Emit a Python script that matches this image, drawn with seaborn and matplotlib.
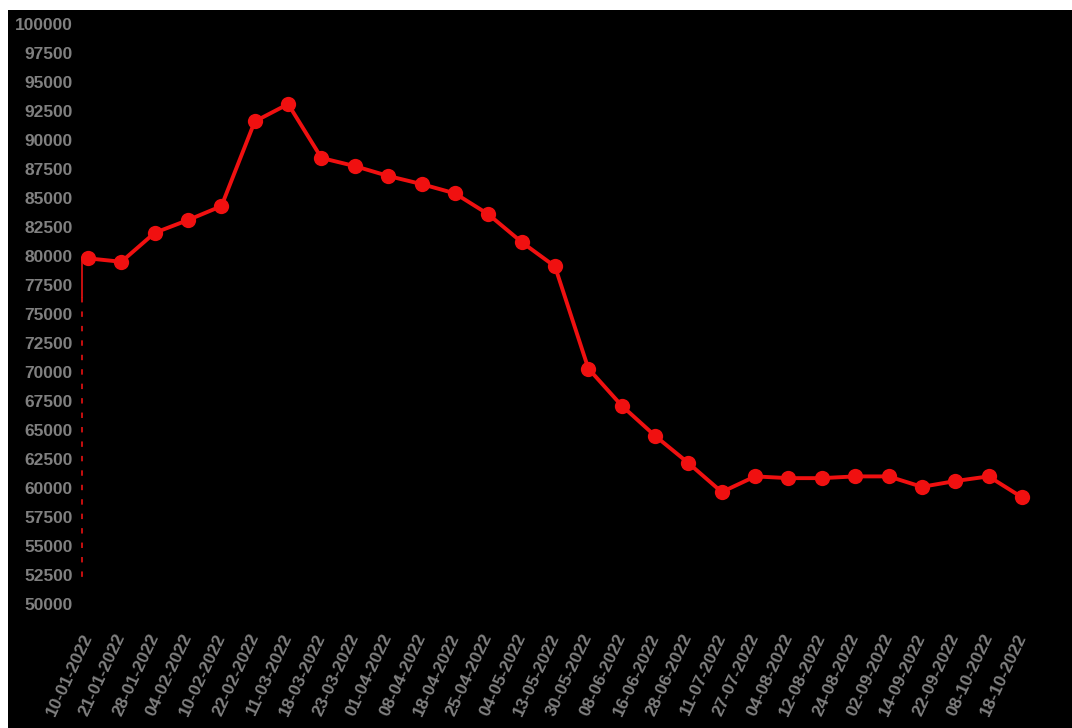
import numpy as np
import pandas as pd
import matplotlib
matplotlib.use("Agg")
import matplotlib.pyplot as plt
import seaborn as sns
from matplotlib.patches import Rectangle

fechas = ['10-01-2022', '21-01-2022', '28-01-2022', '04-02-2022', '10-02-2022',
          '22-02-2022', '11-03-2022', '18-03-2022', '23-03-2022', '01-04-2022',
          '08-04-2022', '18-04-2022', '25-04-2022', '04-05-2022', '13-05-2022',
          '30-05-2022', '08-06-2022', '16-06-2022', '28-06-2022', '11-07-2022',
          '27-07-2022', '04-08-2022', '12-08-2022', '24-08-2022', '02-09-2022',
          '14-09-2022', '22-09-2022', '08-10-2022', '18-10-2022']
precios = [79800, 79500, 82000, 83100, 84300, 91600, 93100, 88450, 87750, 86900,
           86200, 85400, 83600, 81200, 79100, 70300, 67100, 64500, 62150, 59650,
           61000, 60850, 60850, 61000, 61000, 60100, 60600, 61000, 59200]
yticks = list(range(50000, 100001, 2500))
piso = 51800  # hasta donde baja la linea punteada de la izquierda

df = pd.DataFrame({"pos": np.arange(len(fechas)), "fecha": fechas, "precio": precios})

sns.set_style("dark")
plt.rcParams['font.family'] = ['Liberation Sans', 'DejaVu Sans']

fig = plt.figure(figsize=(10.72, 7.28), dpi=100, facecolor="white")
# fondo negro con el borde blanco arriba y a la izquierda
fig.patches.append(Rectangle((8 / 1072, 0), 1, 718 / 728, transform=fig.transFigure,
                             facecolor="black", edgecolor="none", zorder=-10))
ax = fig.add_axes([81 / 1072, 124 / 728, 1 - 81 / 1072, 580 / 728])
ax.set_facecolor("black")

rojo = "#f01010"
sns.lineplot(data=df, x="pos", y="precio", ax=ax, color=rojo, linewidth=2.8,
             marker="o", markersize=11, markeredgewidth=0, zorder=3)

ax.set_xlim(-0.21, 29.5)
ax.set_ylim(50000, 100000)

# linea vertical desde el primer punto hacia abajo
x0 = ax.get_xlim()[0] + 0.02
ax.plot([x0, x0], [precios[0], 76500], color="#d81010", linewidth=1.3, zorder=2)
ax.plot([x0, x0], [76500, piso], color="#d81010", linewidth=1.3,
        linestyle=(0, (3, 5)), zorder=2)

ax.set_yticks(yticks)
ax.set_yticklabels([str(v) for v in yticks])
ax.set_xticks(df["pos"])
ax.set_xticklabels(fechas, rotation=65, ha="right", rotation_mode="anchor", va="center")
ax.tick_params(axis="both", length=0, colors="#808080", labelsize=12.5)
ax.tick_params(axis="x", pad=22)
ax.tick_params(axis="y", pad=6)
for lbl in ax.get_xticklabels() + ax.get_yticklabels():
    lbl.set_fontweight("bold")
ax.set_xlabel("")
ax.set_ylabel("")
ax.grid(False)
for s in ax.spines.values():
    s.set_visible(False)

fig.savefig("out.png", dpi=100, facecolor=fig.get_facecolor())
